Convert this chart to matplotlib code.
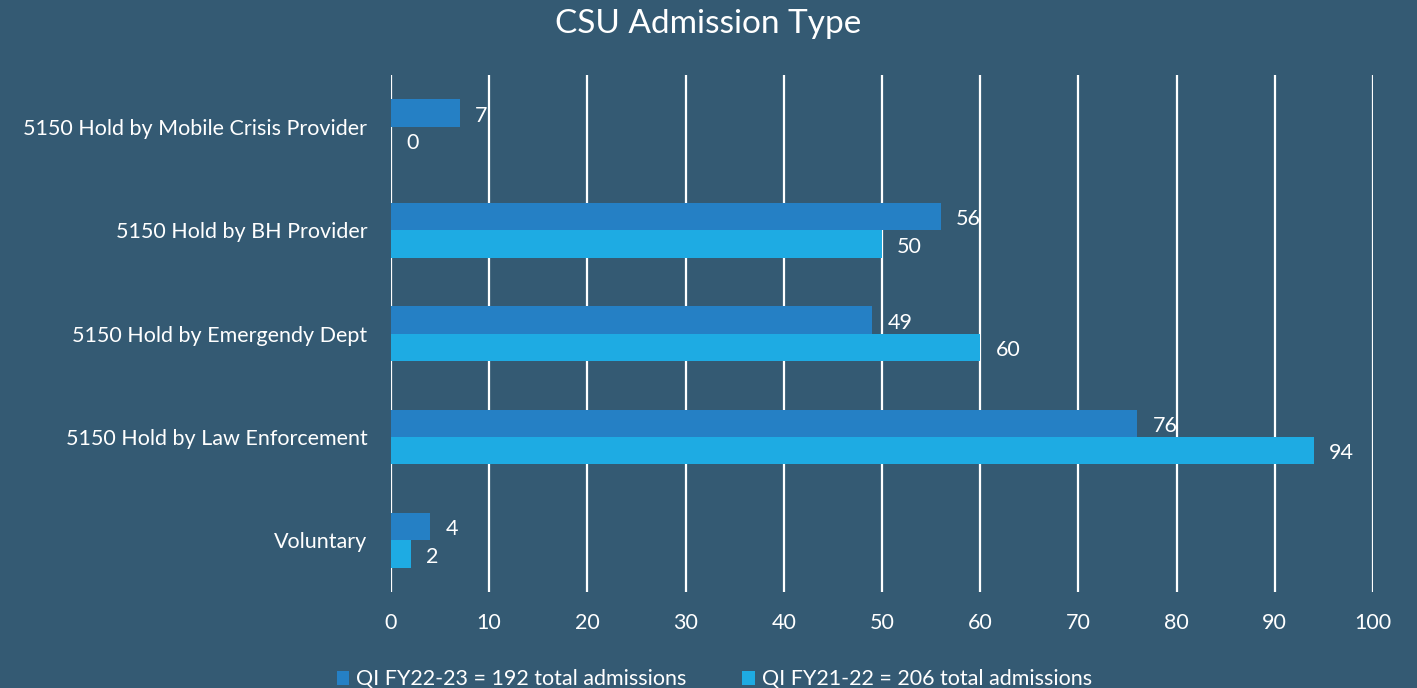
import matplotlib.pyplot as plt
import numpy as np

# Admission categories, top to bottom as shown
categories = ["5150 Hold by Mobile Crisis Provider", "5150 Hold by BH Provider",
              "5150 Hold by Emergendy Dept", "5150 Hold by Law Enforcement", "Voluntary"]
fy2223 = [7, 56, 49, 76, 4]
fy2122 = [0, 50, 60, 94, 2]
series_names = ["QI FY22-23 = 192 total admissions", "QI FY21-22 = 206 total admissions"]
xticks = list(range(0, 101, 10))

bg = "#345a73"
dark_blue = "#2580c5"
light_blue = "#1eabe3"

plt.rcParams['font.family'] = ['Lato', 'DejaVu Sans']

fig = plt.figure(figsize=(14.17, 6.88), dpi=100, facecolor=bg)
ax = fig.add_axes([0.2759, 0.1395, 0.693, 0.7515], facecolor=bg)

y = np.arange(len(categories))
h = 0.265
b1 = ax.barh(y - h / 2, fy2223, height=h, color=dark_blue, linewidth=0,
             label=series_names[0], zorder=3)
b2 = ax.barh(y + h / 2, fy2122, height=h, color=light_blue, linewidth=0,
             label=series_names[1], zorder=3)

# value labels just right of each bar end
for bars, vals in ((b1, fy2223), (b2, fy2122)):
    for bar, v in zip(bars, vals):
        ax.annotate(str(v), (v, bar.get_y() + bar.get_height() / 2),
                    xytext=(11, -2), textcoords="offset points",
                    va="center", ha="left", color="white", fontsize=15.5, zorder=4)

ax.set_xlim(0, 100)
ax.set_ylim(len(categories) - 0.5, -0.5)
ax.set_xticks(xticks)
ax.set_yticks(y)
ax.set_yticklabels(categories)
ax.grid(axis="x", color="white", linewidth=1.6, zorder=1)
ax.tick_params(axis="both", length=0, colors="white", labelsize=15.5)
ax.tick_params(axis="x", pad=15)
ax.tick_params(axis="y", pad=17)
for s in ax.spines.values():
    s.set_visible(False)

fig.suptitle("CSU Admission Type", color="white", fontsize=24, y=0.987)

fig.legend(handles=[b1, b2], loc="lower center", bbox_to_anchor=(0.504, -0.03),
           ncol=2, frameon=False, fontsize=15.5, labelcolor="white",
           handlelength=0.6, handleheight=0.6, handletextpad=0.3, columnspacing=2.6)

fig.savefig("out.png", dpi=100, facecolor=bg)
